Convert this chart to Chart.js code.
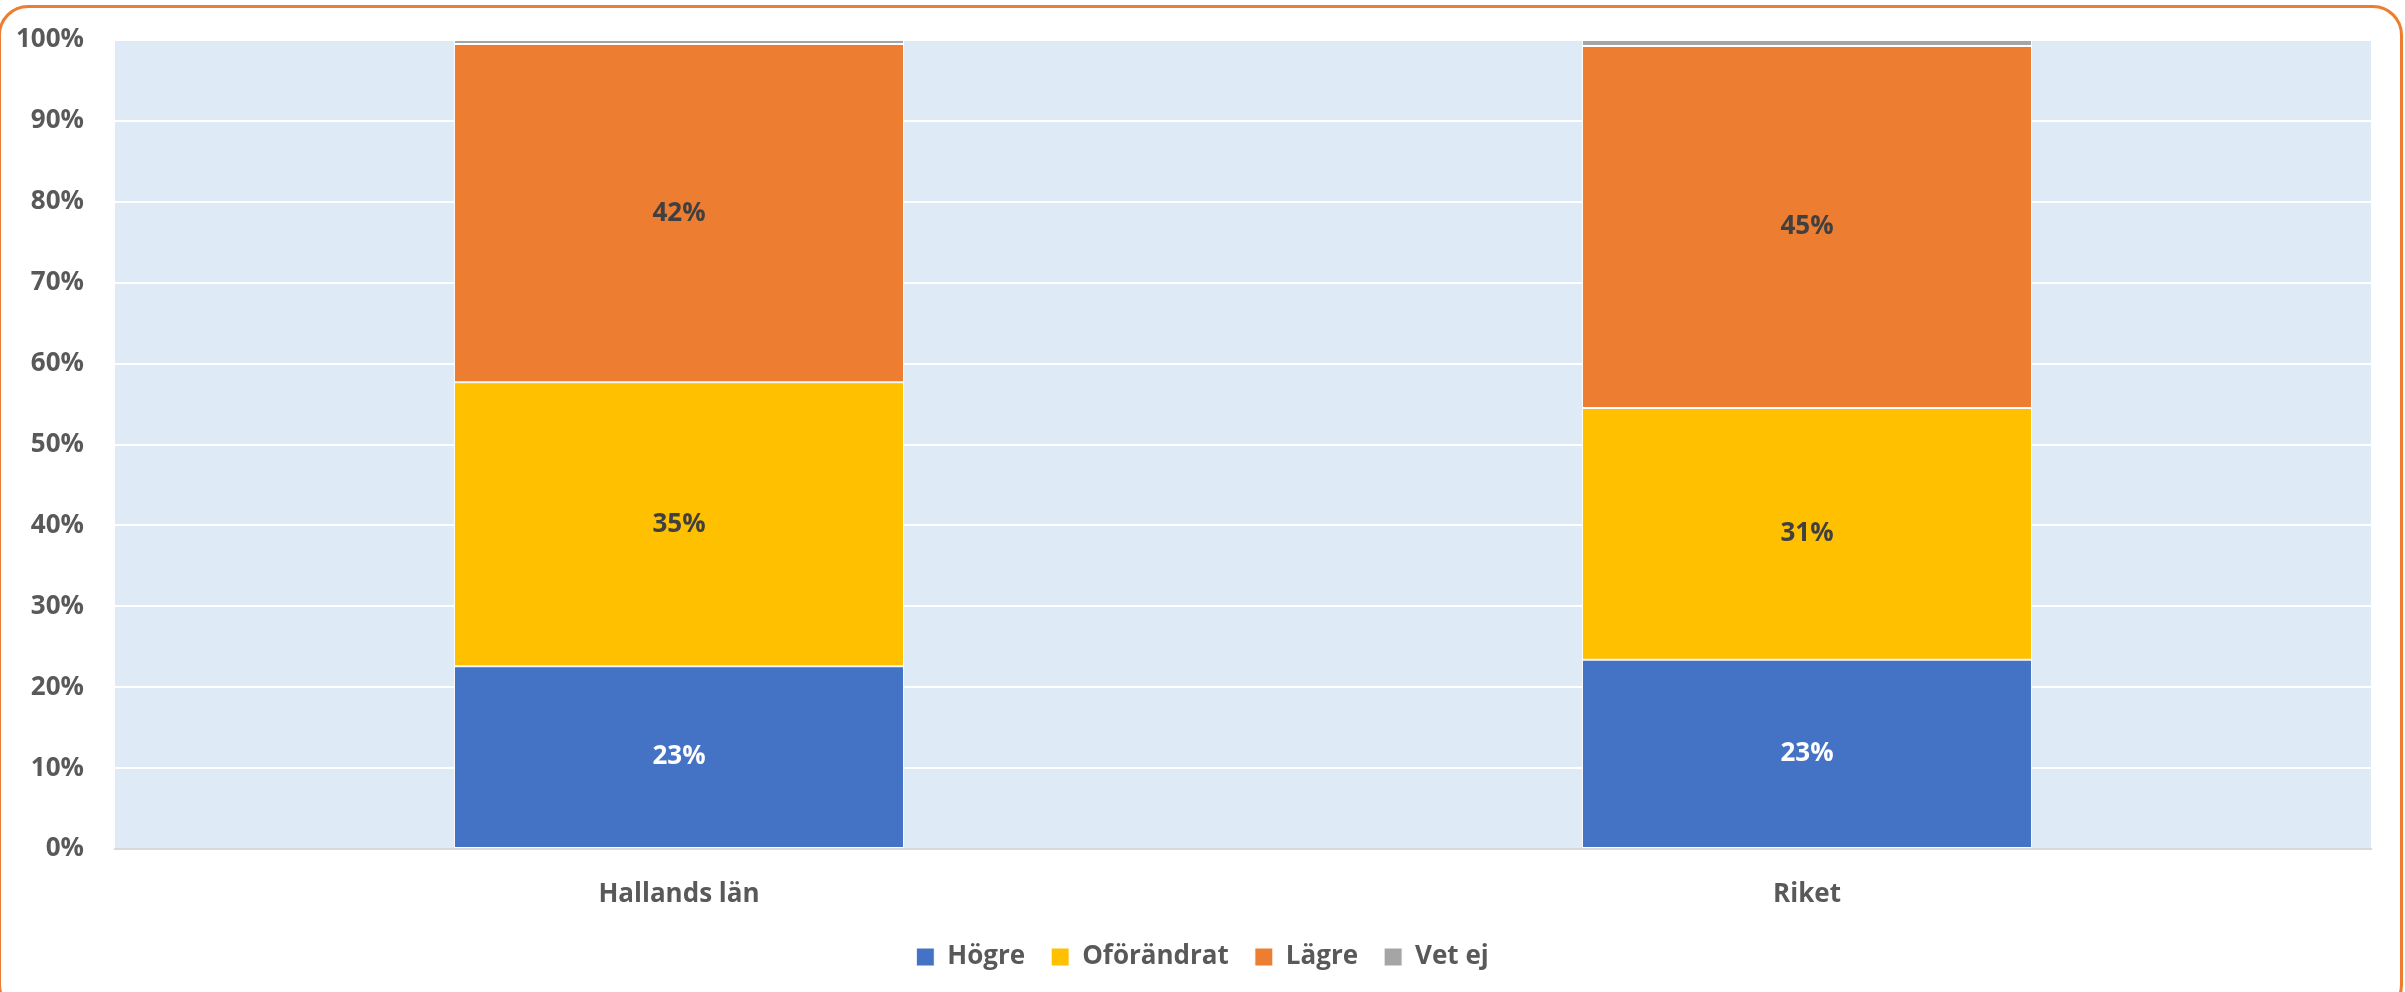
<!DOCTYPE html>
<html><head><meta charset="utf-8">
<script src="https://cdn.jsdelivr.net/npm/chart.js@4.4.0/dist/chart.umd.min.js"></script>
<style>
html,body{margin:0;padding:0;background:#fff;}
#wrap{position:relative;width:2405px;height:992px;overflow:hidden;}
#frame{position:absolute;left:-2px;top:5px;width:2405px;height:1010px;box-sizing:border-box;border:3px solid #ED7D31;border-radius:30px;pointer-events:none;}
canvas{position:absolute;left:0;top:0;}
</style></head><body>
<div id="wrap"><canvas id="c" width="2405" height="992"></canvas><div id="frame"></div></div>
<script>
const categories = ['Hallands län', 'Riket'];
const seriesNames = ['Högre', 'Oförändrat', 'Lägre', 'Vet ej'];
const hogre = [22.6, 23.4];
const oforandrat = [35.1, 31.1];
const lagre = [41.8, 44.75];
const vetEj = [0.5, 0.75];
const yTickValues = [0, 10, 20, 30, 40, 50, 60, 70, 80, 90, 100];
const seriesColors = ['#4472C4', '#FFC000', '#ED7D31', '#A5A5A5'];
const labelColors = ['#FFFFFF', '#404040', '#404040', null];

const FONT = "'Open Sans', sans-serif";
const seriesValues = [hogre, oforandrat, lagre, vetEj];

const bgPlugin = {
  id: 'bg',
  afterLayout(chart) {
    // center the legend on the whole canvas
    if (chart.legend) { chart.legend.left = 0; chart.legend.right = chart.width; chart.legend.width = chart.width; }
  },
  beforeDraw(chart) {
    const {ctx, chartArea: a} = chart;
    ctx.save();
    ctx.fillStyle = '#DEEBF7';
    ctx.fillRect(a.left, a.top, a.right - a.left, a.bottom - a.top);
    ctx.restore();
  }
};

const labelPlugin = {
  id: 'vlabels',
  afterDatasetsDraw(chart) {
    const ctx = chart.ctx;
    ctx.save();
    ctx.font = "bold 26px " + FONT;
    ctx.textAlign = 'center';
    ctx.textBaseline = 'middle';
    chart.data.datasets.forEach((ds, i) => {
      if (!labelColors[i]) return;
      const meta = chart.getDatasetMeta(i);
      meta.data.forEach((bar, j) => {
        const p = bar.getProps(['x', 'y', 'base'], true);
        ctx.fillStyle = labelColors[i];
        ctx.fillText(Math.round(ds.data[j]) + '%', p.x, (p.y + p.base) / 2);
      });
    });
    ctx.restore();
  }
};

new Chart(document.getElementById('c'), {
  type: 'bar',
  data: {
    labels: categories,
    datasets: seriesNames.map((n, i) => ({
      label: n,
      data: seriesValues[i],
      backgroundColor: seriesColors[i],
      borderColor: '#FFFFFF',
      borderWidth: 1,
      borderSkipped: false,
      categoryPercentage: 1,
      barPercentage: 0.399
    }))
  },
  options: {
    responsive: false,
    animation: false,
    devicePixelRatio: 1,
    layout: {padding: {top: 40, right: 34, bottom: 12, left: 0}},
    plugins: {
      legend: {
        position: 'bottom',
        labels: {
          font: {family: FONT, size: 26, weight: 'bold'},
          color: '#595959',
          boxWidth: 18,
          boxHeight: 18,
          padding: 26
        }
      },
      tooltip: {enabled: false}
    },
    scales: {
      x: {
        stacked: true,
        grid: {display: false, drawTicks: false},
        border: {display: true, color: '#D9D9D9', width: 2},
        ticks: {font: {family: FONT, size: 26, weight: 'bold'}, color: '#595959', padding: 30},
        afterFit(s) { s.height = 69; }
      },
      y: {
        stacked: true,
        min: 0,
        max: 100,
        afterBuildTicks(s) { s.ticks = yTickValues.map(v => ({value: v})); },
        grid: {color: '#FFFFFF', lineWidth: 2, drawTicks: true, tickLength: 28, tickColor: 'rgba(0,0,0,0)'},
        border: {display: false},
        ticks: {font: {family: FONT, size: 26, weight: 'bold'}, color: '#595959', padding: 3, callback: v => v + '%'},
        afterFit(s) { s.width = 115; }
      }
    }
  },
  plugins: [bgPlugin, labelPlugin]
});
</script>
</body></html>
